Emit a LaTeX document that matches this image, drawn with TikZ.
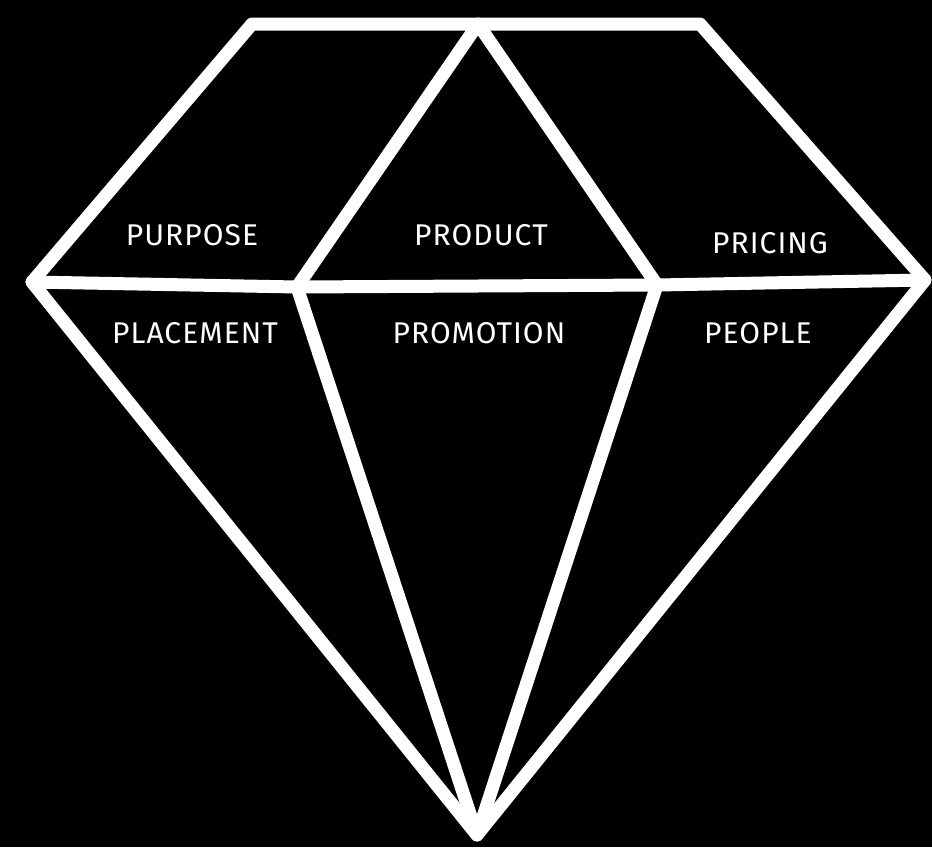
\documentclass[tikz,border=0pt]{standalone}
\usepackage{fontspec}
\setmainfont{Fira Sans}
\newfontfamily\facetfont[LetterSpace=3.5]{Fira Sans}
\usetikzlibrary{positioning}
\tikzset{
      facet/.style={
        draw=white,
        line width=13pt,
        line join=round,
        line cap=round
      },
      facetlabel/.style={
        text=white,
        inner sep=0pt,
        anchor=base,
        font=\facetfont\fontsize{30}{35}\selectfont
      }
    }

\begin{document}
\begin{tikzpicture}[x=1pt,y=-1pt]
    \fill[black] (0,0) rectangle (932,847);
    \useasboundingbox (0,0) rectangle (932,847);
    % corners of the stone
    \coordinate (tl) at (252,24);
    \coordinate (tr) at (700,24);
    \coordinate (apex) at (478,24);
    \coordinate (lt) at (32,282);
    \coordinate (rt) at (925,280);
    \coordinate (jl) at (297,287);
    \coordinate (jr) at (657,285);
    \coordinate (bot) at (477,835);
    \draw[facet] (tl) -- (tr) -- (rt) -- (bot) -- (lt) -- cycle;
    \draw[facet] (lt) -- (jl) -- (jr) -- (rt);
    \draw[facet] (jl) -- (apex) -- (jr);
    \draw[facet] (jl) -- (bot) -- (jr);
    % labels
    \node[facetlabel] (purpose) at (192,245) {PURPOSE};
    \node[facetlabel] (product) at (481,245) {PRODUCT};
    \node[facetlabel] (pricing) at (770,253) {PRICING};
    \node[facetlabel] (placement) at (195,343) {PLACEMENT};
    \node[facetlabel] (promotion) at (479,343) {PROMOTION};
    \node[facetlabel] (people) at (758,343) {PEOPLE};
    \end{tikzpicture}
\end{document}
